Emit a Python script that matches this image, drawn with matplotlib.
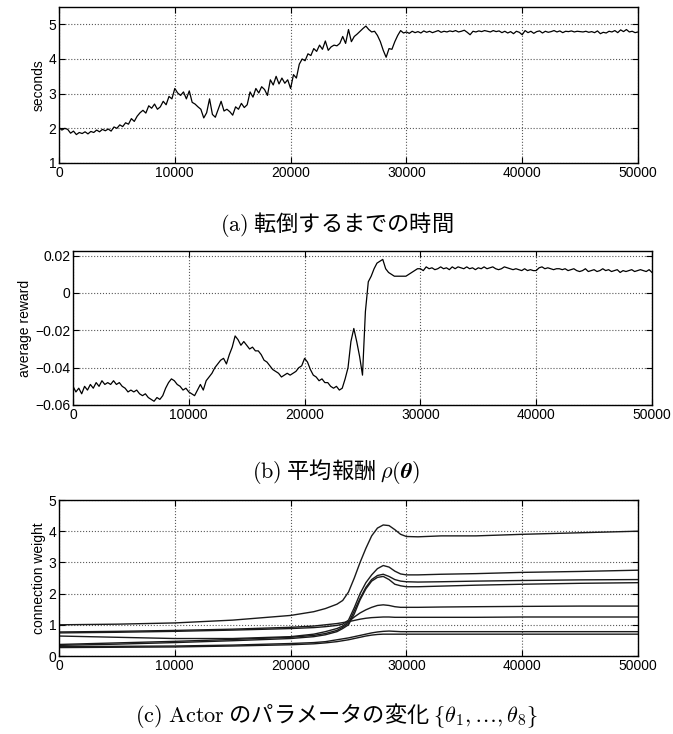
import numpy as np
import matplotlib
matplotlib.use('Agg')
import matplotlib.pyplot as plt

plt.rcParams.update({
    'font.family': ['Liberation Sans', 'DejaVu Sans'],
    'font.size': 10,
    'mathtext.fontset': 'cm',
    'axes.linewidth': 1.0,
    'xtick.direction': 'in',
    'ytick.direction': 'in',
    'xtick.top': True,
    'ytick.right': True,
    'xtick.major.size': 4,
    'ytick.major.size': 4,
})

STEP = 250  # both noisy series are read every 250 steps

# (a) time until falling
seconds = [
    2.02, 1.95, 2.00, 1.97,  1.86, 1.92, 1.82, 1.88,  1.85, 1.90, 1.84, 1.91,
    1.88, 1.95, 1.90, 1.97,  1.93, 1.98, 1.92, 2.04,  2.00, 2.10, 2.05, 2.16,
    2.12, 2.28, 2.20, 2.35,  2.45, 2.52, 2.44, 2.65,  2.58, 2.70, 2.55, 2.62,
    2.78, 2.68, 2.92, 2.85,  3.15, 3.02, 2.95, 3.05,  2.85, 3.08, 2.75, 2.70,
    2.62, 2.55, 2.30, 2.45,  2.85, 2.40, 2.32, 2.55,  2.78, 2.50, 2.55, 2.48,
    2.38, 2.62, 2.55, 2.72,  2.60, 2.68, 3.05, 2.90,  3.15, 3.02, 3.20, 3.12,
    2.95, 3.40, 3.25, 3.50,  3.28, 3.45, 3.30, 3.40,  3.15, 3.55, 3.45, 3.85,
    4.00, 3.95, 4.15, 4.10,  4.30, 4.22, 4.40, 4.28,  4.52, 4.25, 4.35, 4.40,
    4.38, 4.45, 4.65, 4.45,  4.85, 4.50, 4.65, 4.72,  4.80, 4.88, 4.95, 4.85,
    4.78, 4.80, 4.68, 4.50,  4.25, 4.05, 4.30, 4.28,  4.50, 4.68, 4.82, 4.75,
    4.78, 4.74, 4.80, 4.76,  4.79, 4.75, 4.81, 4.77,  4.80, 4.76, 4.79, 4.82,
    4.77, 4.80, 4.78, 4.81,  4.79, 4.82, 4.78, 4.80,  4.83, 4.77, 4.70, 4.80,
    4.78, 4.81, 4.79, 4.82,  4.80, 4.78, 4.82, 4.79,  4.81, 4.76, 4.80, 4.75,
    4.79, 4.73, 4.80, 4.77,  4.70, 4.82, 4.76, 4.80,  4.74, 4.79, 4.81, 4.75,
    4.80, 4.77, 4.79, 4.82,  4.78, 4.81, 4.76, 4.80,  4.79, 4.81, 4.78, 4.80,
    4.79, 4.78, 4.80, 4.77,  4.79, 4.76, 4.81, 4.73,  4.77, 4.75, 4.80, 4.78,
    4.82, 4.76, 4.84, 4.79,  4.85, 4.78, 4.80, 4.76,  4.78,
]

# (b) average reward
reward = [
    -0.050, -0.053, -0.051, -0.054,  -0.050, -0.052, -0.049, -0.051,   # 0
    -0.048, -0.050, -0.047, -0.049,  -0.048, -0.049, -0.047, -0.049,   # 2000
    -0.048, -0.050, -0.051, -0.053,  -0.052, -0.053, -0.052, -0.054,   # 4000
    -0.055, -0.054, -0.056, -0.057,  -0.058, -0.056, -0.057, -0.055,   # 6000
    -0.051, -0.048, -0.046, -0.047,  -0.049, -0.050, -0.052, -0.051,   # 8000
    -0.053, -0.054, -0.055, -0.052,  -0.049, -0.052, -0.047, -0.045,   # 10000
    -0.043, -0.040, -0.038, -0.036,  -0.035, -0.038, -0.033, -0.029,   # 12000
    -0.023, -0.025, -0.028, -0.026,  -0.028, -0.030, -0.029, -0.031,   # 14000
    -0.031, -0.033, -0.036, -0.037,  -0.039, -0.041, -0.042, -0.043,   # 16000
    -0.045, -0.044, -0.043, -0.044,  -0.043, -0.042, -0.040, -0.039,   # 18000
    -0.035, -0.037, -0.041, -0.044,  -0.045, -0.047, -0.046, -0.048,   # 20000
    -0.048, -0.050, -0.051, -0.050,  -0.052, -0.051, -0.046, -0.040,   # 22000
    -0.026, -0.019, -0.026, -0.034,  -0.044, -0.010, 0.006, 0.009,     # 24000
    0.013, 0.016, 0.017, 0.018,  0.013, 0.011, 0.010, 0.009,           # 26000
    0.009, 0.009, 0.009, 0.009,  0.010, 0.011, 0.012, 0.013,           # 28000
    0.013, 0.012, 0.014, 0.013,  0.0135, 0.0125, 0.013, 0.014,         # 30000
    0.013, 0.0135, 0.0125, 0.014,  0.013, 0.014, 0.0135, 0.013,        # 32000
    0.014, 0.013, 0.0135, 0.0125,  0.0135, 0.013, 0.014, 0.013,        # 34000
    0.0135, 0.014, 0.013, 0.0125,  0.013, 0.014, 0.0135, 0.013,        # 36000
    0.0125, 0.013, 0.0125, 0.012,  0.013, 0.012, 0.0125, 0.012,        # 38000
    0.012, 0.0135, 0.014, 0.013,  0.0135, 0.013, 0.0125, 0.013,        # 40000
    0.013, 0.0125, 0.013, 0.012,  0.0125, 0.013, 0.012, 0.0115,        # 42000
    0.012, 0.013, 0.0115, 0.012,  0.0125, 0.0115, 0.012, 0.013,        # 44000
    0.012, 0.0125, 0.0115, 0.012,  0.0125, 0.011, 0.012, 0.0115,       # 46000
    0.012, 0.0125, 0.0115, 0.012,  0.0125, 0.012, 0.0115, 0.0125,      # 48000
    0.011,                                                             # 50000
]

# (c) actor parameters theta_1..theta_8
w_steps = [0, 5000, 10000, 15000, 20000, 22000, 23000, 24000, 24500, 25000,
           25500, 26000, 26500, 27000, 27500, 28000, 28500, 29000, 29500,
           30000, 31000, 33000, 36000, 40000, 45000, 50000]
weights = [
    [1.00, 1.02, 1.06, 1.15, 1.30, 1.42, 1.52, 1.66, 1.78, 2.05, 2.50, 3.00, 3.45,
     3.85, 4.10, 4.20, 4.18, 4.05, 3.90, 3.83, 3.82, 3.85, 3.85, 3.90, 3.95, 4.00],
    [0.74, 0.76, 0.79, 0.83, 0.88, 0.91, 0.94, 0.98, 1.02, 1.15, 1.55, 2.00, 2.35,
     2.60, 2.80, 2.90, 2.85, 2.72, 2.63, 2.60, 2.60, 2.62, 2.64, 2.68, 2.71, 2.75],
    [0.37, 0.42, 0.47, 0.53, 0.60, 0.66, 0.72, 0.82, 0.92, 1.05, 1.45, 1.85, 2.20,
     2.45, 2.58, 2.62, 2.55, 2.45, 2.40, 2.38, 2.37, 2.38, 2.40, 2.42, 2.44, 2.45],
    [0.34, 0.38, 0.43, 0.49, 0.56, 0.62, 0.68, 0.78, 0.88, 1.00, 1.35, 1.80, 2.15,
     2.40, 2.52, 2.55, 2.45, 2.30, 2.25, 2.22, 2.22, 2.24, 2.27, 2.30, 2.33, 2.35],
    [0.64, 0.60, 0.56, 0.56, 0.62, 0.70, 0.78, 0.88, 0.96, 1.10, 1.25, 1.38, 1.48,
     1.56, 1.62, 1.64, 1.62, 1.58, 1.56, 1.56, 1.56, 1.57, 1.58, 1.59, 1.60, 1.60],
    [0.77, 0.79, 0.82, 0.86, 0.92, 0.96, 1.00, 1.04, 1.07, 1.10, 1.14, 1.18, 1.21,
     1.23, 1.24, 1.25, 1.25, 1.24, 1.24, 1.24, 1.24, 1.24, 1.24, 1.25, 1.25, 1.25],
    [0.30, 0.31, 0.32, 0.35, 0.40, 0.43, 0.46, 0.52, 0.55, 0.58, 0.62, 0.66, 0.70,
     0.74, 0.77, 0.79, 0.80, 0.79, 0.78, 0.78, 0.78, 0.78, 0.78, 0.78, 0.78, 0.78],
    [0.27, 0.28, 0.29, 0.32, 0.36, 0.39, 0.42, 0.46, 0.49, 0.52, 0.56, 0.60, 0.64,
     0.67, 0.69, 0.70, 0.70, 0.70, 0.70, 0.70, 0.70, 0.70, 0.70, 0.70, 0.70, 0.70],
]

xticks = [0, 10000, 20000, 30000, 40000, 50000]
captions = [
    r'$\mathrm{(a)}$ 転倒するまでの時間',
    r'$\mathrm{(b)}$ 平均報酬 $\rho(\boldsymbol{\theta})$',
    r'$\mathrm{(c)\ Actor}$ のパラメータの変化 $\lbrace\theta_1,\ldots,\theta_8\rbrace$',
]

W, H = 673, 734
fig = plt.figure(figsize=(W / 100, H / 100), dpi=100)


def add_axes(left, right, top, bottom):
    return fig.add_axes([left / W, 1 - bottom / H, (right - left) / W, (bottom - top) / H])


def style(ax):
    ax.set_xlim(0, 50000)
    ax.set_xticks(xticks)
    ax.grid(True, linestyle=':', color='0.35', linewidth=0.8)
    ax.tick_params(length=4, width=0.8, pad=2)


ax1 = add_axes(59, 638, 7, 163)
ax1.plot(np.arange(len(seconds)) * STEP, seconds, color='black', linewidth=0.9)
ax1.set_ylim(1, 5.5)
ax1.set_yticks([1, 2, 3, 4, 5])
ax1.set_ylabel('seconds', labelpad=2)
style(ax1)

ax2 = add_axes(73, 652, 251, 405)
ax2.plot(np.arange(len(reward)) * STEP, reward, color='black', linewidth=0.9)
ax2.set_ylim(-0.06, 0.0225)
ax2.set_yticks([-0.06, -0.04, -0.02, 0, 0.02])
ax2.set_yticklabels(['\u22120.06', '\u22120.04', '\u22120.02', '0', '0.02'])
ax2.set_ylabel('average reward', labelpad=2)
style(ax2)

ax3 = add_axes(59, 638, 500, 656)
for w in weights:
    ax3.plot(w_steps, w, color='0.1', linewidth=1.0)
ax3.set_ylim(0, 5)
ax3.set_yticks([0, 1, 2, 3, 4, 5])
ax3.set_ylabel('connection weight', labelpad=2)
style(ax3)

cap_y = [225, 471, 716]
for text, y in zip(captions, cap_y):
    fig.text(0.5, 1 - y / H, text, ha='center', va='center', fontsize=16,
             family=['Noto Sans CJK JP', 'DejaVu Sans'])

fig.savefig('out.png', dpi=100)
